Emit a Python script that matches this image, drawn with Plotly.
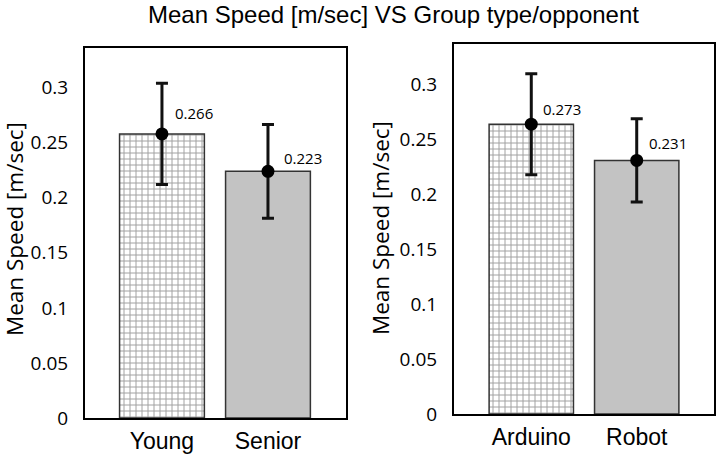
import plotly.graph_objects as go

# ---- data ----
group_categories = ["Young", "Senior"]
group_means = [0.258, 0.224]
group_errors = [0.046, 0.0425]
group_labels = ["0.266", "0.223"]

opponent_categories = ["Arduino", "Robot"]
opponent_means = [0.264, 0.231]
opponent_errors = [0.046, 0.038]
opponent_labels = ["0.273", "0.231"]

y_ticks = [0, 0.05, 0.1, 0.15, 0.2, 0.25, 0.3]
y_tick_text = ["0", "0.05", "0.1", "0.15", "0.2", "0.25", "0.3"]

title_text = "Mean Speed [m/sec] VS Group type/opponent"
y_title = "Mean Speed [m/sec]"

W, H = 717, 455
TICK_FONT = "Open Sans"
CAT_FONT = "Liberation Sans"

# label shifts in px (style)
group_label_shift = [(32, 21), (35, 13)]
opponent_label_shift = [(31, 15), (31, 17)]

fig = go.Figure()

bar_styles = [
    dict(color="white", pattern=dict(shape="+", size=6, solidity=0.3,
                                     fgcolor="#a0a0a0", bgcolor="white",
                                     fillmode="replace")),
    dict(color="#c3c3c3"),
]

def add_panel(cats, means, errs, labels, shifts, xa, ya):
    xs = list(range(len(cats)))
    for i in xs:
        fig.add_trace(go.Bar(
            x=[xs[i]], y=[means[i]], width=0.8,
            marker=dict(line=dict(color="#333333", width=1.5), **bar_styles[i]),
            xaxis=xa, yaxis=ya, showlegend=False, hoverinfo="skip",
        ))
    fig.add_trace(go.Scatter(
        x=xs, y=means, mode="markers",
        marker=dict(color="black", size=13),
        error_y=dict(type="data", array=errs, visible=True,
                     color="#111111", thickness=3, width=6),
        xaxis=xa, yaxis=ya, showlegend=False, hoverinfo="skip",
    ))
    for i, (lab, (dx, dy)) in enumerate(zip(labels, shifts)):
        fig.add_annotation(
            x=xs[i], y=means[i], xref=xa, yref=ya, text=lab,
            showarrow=False, xshift=dx, yshift=dy,
            font=dict(family=TICK_FONT, size=15, color="black"),
            xanchor="center", yanchor="middle",
        )

add_panel(group_categories, group_means, group_errors, group_labels,
          group_label_shift, "x", "y")
add_panel(opponent_categories, opponent_means, opponent_errors, opponent_labels,
          opponent_label_shift, "x2", "y2")

def px_x(p):
    return p / W

def px_y(p):
    return 1 - p / H

common_x = dict(
    showline=True, linecolor="black", linewidth=2, mirror=True,
    showgrid=False, zeroline=False, ticks="", fixedrange=True, automargin=False,
    tickfont=dict(family=CAT_FONT, size=23, color="black"),
    ticklabelstandoff=1,
)
common_y = dict(
    showline=True, linecolor="black", linewidth=2, mirror=True,
    showgrid=False, zeroline=False, ticks="", automargin=False, fixedrange=True,
    tickvals=y_ticks, ticktext=y_tick_text,
    tickfont=dict(family=TICK_FONT, size=19, color="black"),
    ticklabelstandoff=11,
)

fig.update_layout(
    width=W, height=H,
    margin=dict(l=0, r=0, t=0, b=0),
    paper_bgcolor="white", plot_bgcolor="white",
    barmode="overlay",
    xaxis=dict(domain=[px_x(85), px_x(346)], range=[-0.726, 1.736],
               tickvals=[0, 1], ticktext=group_categories, anchor="y", **common_x),
    yaxis=dict(domain=[px_y(418), px_y(48)], range=[0, 0.336], anchor="x", **common_y),
    xaxis2=dict(domain=[px_x(454), px_x(714)], range=[-0.733, 1.733],
                tickvals=[0, 1], ticktext=opponent_categories, anchor="y2", **common_x),
    yaxis2=dict(domain=[px_y(414), px_y(44)], range=[0, 0.337], anchor="x2", **common_y),
)

# y axis titles
for xc, yc in [(14, 229), (380, 228)]:
    fig.add_annotation(
        x=px_x(xc), y=px_y(yc), xref="paper", yref="paper",
        text=y_title, textangle=-90, showarrow=False,
        xanchor="center", yanchor="middle",
        font=dict(family=TICK_FONT, size=22.5, color="black"),
    )

fig.add_annotation(
    x=px_x(393), y=px_y(15), xref="paper", yref="paper",
    text=title_text, showarrow=False, xanchor="center", yanchor="middle",
    font=dict(family=CAT_FONT, size=24, color="black"),
)

fig.write_html(
    "out.html",
    config={"displayModeBar": False, "staticPlot": True},
    post_script="document.body.style.margin='0';document.body.style.overflow='hidden';",
)
